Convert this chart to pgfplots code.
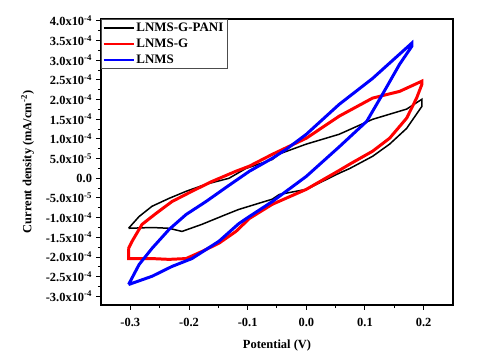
\documentclass[border=0pt]{standalone}
\usepackage{pgfplots}
\pgfplotsset{compat=1.18}
\usepackage{fontspec}
\setmainfont{Liberation Serif}
\begin{document}
\begin{tikzpicture}
\path[use as bounding box] (0,0) rectangle (487bp,362bp);
\begin{axis}[
  at={(101bp,57bp)}, anchor=south west,
  scale only axis, width=352bp, height=286bp,
  xmin=-0.35, xmax=0.25, ymin=-3.22, ymax=4.05,
  axis line style={line width=1.2pt},
  tick style={line width=1pt, black},
  tick align=outside, xtick pos=bottom, ytick pos=left,
  major tick length=4.5bp, minor tick length=3bp,
  xtick={-0.3,-0.2,-0.1,0,0.1,0.2},
  xticklabels={-0.3,-0.2,-0.1,0.0,0.1,0.2},
  minor x tick num=1, minor y tick num=1,
  ytick={-3,-2.5,-2,-1.5,-1,-0.5,0,0.5,1,1.5,2,2.5,3,3.5,4},
  yticklabels={-3.0x10\textsuperscript{-4},-2.5x10\textsuperscript{-4},-2.0x10\textsuperscript{-4},-1.5x10\textsuperscript{-4},-1.0x10\textsuperscript{-4},-5.0x10\textsuperscript{-5},0.0,5.0x10\textsuperscript{-5},1.0x10\textsuperscript{-4},1.5x10\textsuperscript{-4},2.0x10\textsuperscript{-4},2.5x10\textsuperscript{-4},3.0x10\textsuperscript{-4},3.5x10\textsuperscript{-4},4.0x10\textsuperscript{-4}},
  ticklabel style={font=\fontsize{12.5}{14}\selectfont\bfseries},
  yticklabel style={xshift=-1bp},
  xticklabel style={yshift=-5bp},
  xlabel={Potential (V)}, ylabel={Current density (mA/cm\textsuperscript{-2})},
  label style={font=\fontsize{12.5}{14}\selectfont\bfseries},
  xlabel style={yshift=-7bp},
  ylabel shift=5bp,
  legend style={at={(0,1)}, anchor=north west, draw=black!70,
    font=\fontsize{13}{15}\selectfont\bfseries, inner sep=1.5bp, row sep=2bp,
    cells={anchor=west}},
  clip=true,
]
\addplot[color=black, draw=black, line width=1.5pt,
  legend image code/.code={\draw[draw=black, line width=1.8pt] (0bp,0bp) -- (30bp,0bp);}] coordinates {
(-0.303,-1.27) (-0.285,-0.97) (-0.263,-0.71) (-0.234,-0.51) (-0.205,-0.33) (-0.171,-0.15)
(-0.132,0.0) (-0.103,0.25) (-0.058,0.48) (-0.046,0.62) (0.0,0.87) (0.056,1.12) (0.113,1.50)
(0.171,1.76) (0.197,2.01)
(0.197,1.83) (0.171,1.27) (0.142,0.87) (0.113,0.56) (0.074,0.25) (0.056,0.13) (0.0,-0.28)
(-0.046,-0.41) (-0.058,-0.53) (-0.115,-0.79) (-0.137,-0.92) (-0.178,-1.17) (-0.212,-1.35)
(-0.234,-1.27) (-0.263,-1.25) (-0.303,-1.27)};
\addlegendentry{LNMS-G-PANI}
\addplot[color=red, draw=red, line width=3pt,
  legend image code/.code={\draw[draw=red, line width=1.8pt] (0bp,0bp) -- (30bp,0bp);}] coordinates {
(-0.303,-1.78) (-0.297,-1.60) (-0.280,-1.17) (-0.256,-0.89) (-0.229,-0.59) (-0.195,-0.33)
(-0.161,-0.08) (-0.120,0.18) (-0.097,0.31) (-0.058,0.61) (0.0,1.02) (0.056,1.58) (0.113,2.04)
(0.159,2.21) (0.197,2.47)
(0.197,2.39) (0.188,2.04) (0.171,1.53) (0.142,1.02) (0.113,0.69) (0.074,0.36) (0.056,0.20)
(0.0,-0.28) (-0.058,-0.66) (-0.097,-1.02) (-0.120,-1.35) (-0.149,-1.65) (-0.178,-1.86)
(-0.205,-2.04) (-0.234,-2.06) (-0.263,-2.04) (-0.303,-2.04) (-0.303,-1.78)};
\addlegendentry{LNMS-G}
\addplot[color=blue, draw=blue, line width=3pt,
  legend image code/.code={\draw[draw=blue, line width=1.8pt] (0bp,0bp) -- (30bp,0bp);}] coordinates {
(-0.303,-2.70) (-0.285,-2.19) (-0.263,-1.78) (-0.234,-1.30) (-0.205,-0.92) (-0.171,-0.59)
(-0.132,-0.18) (-0.097,0.18) (-0.058,0.51) (-0.034,0.74) (0.0,1.12) (0.056,1.88) (0.113,2.54)
(0.180,3.44)
(0.180,3.36) (0.159,2.90) (0.130,2.14) (0.103,1.45) (0.056,0.80) (0.0,0.05) (-0.058,-0.59)
(-0.097,-0.97) (-0.115,-1.15) (-0.149,-1.60) (-0.195,-2.04) (-0.229,-2.24) (-0.263,-2.49)
(-0.303,-2.70)};
\addlegendentry{LNMS}
\end{axis}
\end{tikzpicture}
\end{document}
